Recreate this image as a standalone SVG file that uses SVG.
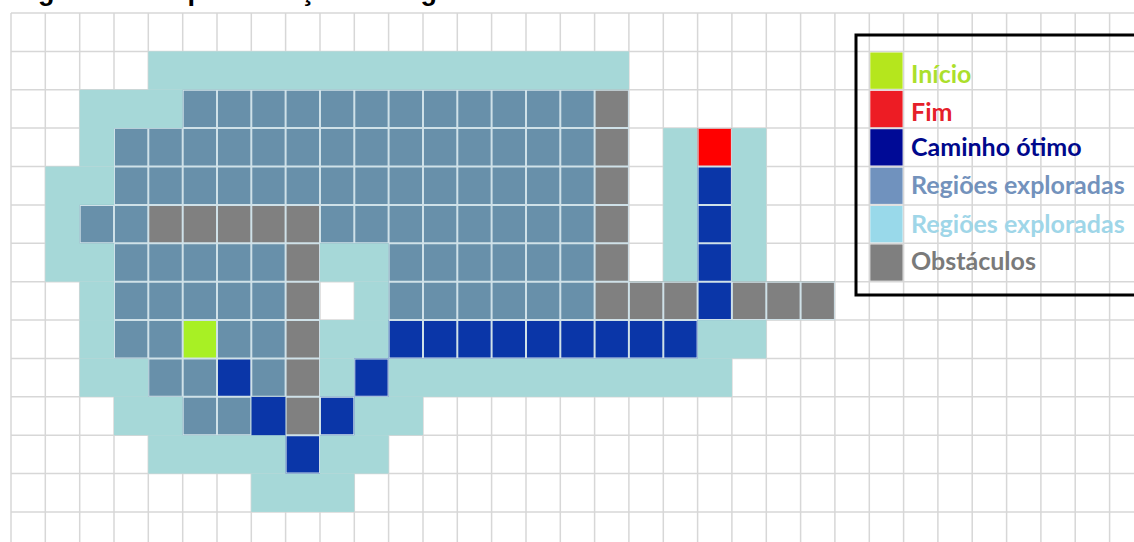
<svg xmlns="http://www.w3.org/2000/svg" width="1134" height="542" viewBox="0 0 1134 542">
<style>
.gl{fill:none;stroke:#d7d7d7;stroke-width:1.5}
.pl{fill:none;stroke:#cfe1e8;stroke-width:2}
.cy{fill:#a6d8d8}
.ex{fill:#6890aa}
.ob{fill:#808080}
.pt{fill:#0a36a8}
.st{fill:#a8f024}
.en{fill:#ff0000}
.lt{font-family:Lato,"Open Sans","Liberation Sans",sans-serif;font-weight:700;font-size:25px}
.tt{font-family:"Liberation Sans",Arial,sans-serif;font-weight:700;font-size:27px;fill:#000}
</style>
<defs>
<path id="gridpath" d="M11 13V542M45.3 13V542M79.7 13V542M114 13V542M148.3 13V542M182.7 13V542M217 13V542M251.3 13V542M285.6 13V542M320 13V542M354.3 13V542M388.6 13V542M423 13V542M457.3 13V542M491.6 13V542M526 13V542M560.3 13V542M594.6 13V542M628.9 13V542M663.3 13V542M697.6 13V542M731.9 13V542M766.3 13V542M800.6 13V542M834.9 13V542M869.3 13V542M903.6 13V542M937.9 13V542M972.2 13V542M1006.6 13V542M1040.9 13V542M1075.2 13V542M1109.6 13V542M11 13H1134M11 51.4H1134M11 89.8H1134M11 128.1H1134M11 166.5H1134M11 204.9H1134M11 243.3H1134M11 281.7H1134M11 320H1134M11 358.4H1134M11 396.8H1134M11 435.2H1134M11 473.6H1134M11 511.9H1134"/>
<clipPath id="filled">
<path transform="translate(11 13) scale(34.33 38.38)" d="M5 2h12v1h-12zM3 3h14v2h-14zM2 5h2v1h-2zM9 5h8v1h-8zM3 6h5v2h-5zM11 6h6v2h-6zM3 8h5v1h-5zM4 9h4v1h-4zM5 10h2v1h-2zM17 2h1v5h-1zM17 7h3v1h-3zM21 7h3v1h-3zM4 5h5v1h-5zM8 6h1v5h-1zM20 3h1v5h-1zM11 8h9v1h-9zM10 9h1v1h-1zM9 10h1v1h-1zM8 11h1v1h-1z"/>
</clipPath>
</defs>
<rect width="1134" height="542" fill="#ffffff"/>
<g id="title">
<text class="tt" y="0"><tspan x="14">Figura 1 –</tspan><tspan x="153">Representação</tspan><tspan x="356">do</tspan><tspan x="398">algoritmo</tspan></text>
</g>
<use id="grid" href="#gridpath" class="gl"/>
<g id="map" transform="translate(11 13) scale(34.33 38.38)">
<g id="explored-outer" class="cy">
<rect x="4" y="1" width="14" height="1"/>
<rect x="2" y="2" width="16" height="2"/>
<rect x="1" y="4" width="17" height="3"/>
<rect x="19" y="3" width="3" height="4"/>
<rect x="2" y="7" width="7" height="1"/>
<rect x="10" y="7" width="14" height="1"/>
<rect x="2" y="8" width="20" height="1"/>
<rect x="2" y="9" width="19" height="1"/>
<rect x="3" y="10" width="9" height="1"/>
<rect x="4" y="11" width="7" height="1"/>
<rect x="7" y="12" width="3" height="1"/>
</g>
<g id="explored-inner" class="ex">
<rect x="5" y="2" width="12" height="1"/>
<rect x="3" y="3" width="14" height="2"/>
<rect x="2" y="5" width="2" height="1"/>
<rect x="9" y="5" width="8" height="1"/>
<rect x="3" y="6" width="5" height="2"/>
<rect x="11" y="6" width="6" height="2"/>
<rect x="3" y="8" width="2" height="1"/>
<rect x="6" y="8" width="2" height="1"/>
<rect x="4" y="9" width="2" height="1"/>
<rect x="7" y="9" width="1" height="1"/>
<rect x="5" y="10" width="2" height="1"/>
</g>
<g id="obstacles" class="ob">
<rect x="17" y="2" width="1" height="5"/>
<rect x="17" y="7" width="3" height="1"/>
<rect x="21" y="7" width="3" height="1"/>
<rect x="4" y="5" width="5" height="1"/>
<rect x="8" y="6" width="1" height="5"/>
</g>
<g id="path" class="pt">
<rect x="20" y="4" width="1" height="4"/>
<rect x="11" y="8" width="9" height="1"/>
<rect x="6" y="9" width="1" height="1"/>
<rect x="10" y="9" width="1" height="1"/>
<rect x="7" y="10" width="1" height="1"/>
<rect x="9" y="10" width="1" height="1"/>
<rect x="8" y="11" width="1" height="1"/>
</g>
<g id="start"><rect class="st" x="5" y="8" width="1" height="1"/></g>
<g id="end"><rect class="en" x="20" y="3" width="1" height="1"/></g>
</g>
<use id="cell-gaps" href="#gridpath" class="pl" clip-path="url(#filled)"/>
<g id="legend">
<rect x="856" y="35" width="290" height="260" fill="none" stroke="#000" stroke-width="3"/>
<rect x="870.3" y="52.5" width="32.3" height="36.3" fill="#b5e61d"/>
<rect x="870.3" y="90.9" width="32.3" height="36.3" fill="#ed1c24"/>
<rect x="870.3" y="129.2" width="32.3" height="36.3" fill="#000a96"/>
<rect x="870.3" y="167.6" width="32.3" height="36.3" fill="#7092be"/>
<rect x="870.3" y="206" width="32.3" height="36.3" fill="#99d9ea"/>
<rect x="870.3" y="244.4" width="32.3" height="36.3" fill="#7f7f7f"/>
<text class="lt" x="911" y="83" fill="#acdf2c">Início</text>
<text class="lt" x="911" y="121" fill="#e5202a">Fim</text>
<text class="lt" x="911" y="156" fill="#00088c">Caminho ótimo</text>
<text class="lt" x="911" y="194" fill="#7392bc">Regiões exploradas</text>
<text class="lt" x="911" y="233" fill="#9fd6e8">Regiões exploradas</text>
<text class="lt" x="911" y="270" fill="#7a7a7a">Obstáculos</text>
</g>
</svg>
